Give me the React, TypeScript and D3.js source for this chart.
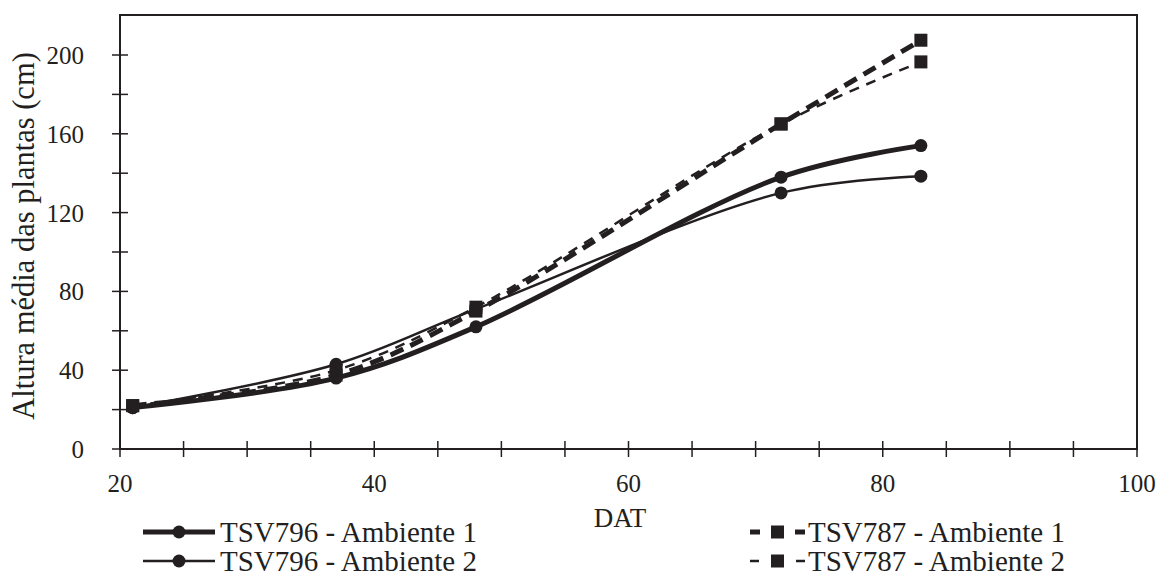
import React from "react";
import * as d3 from "d3";

const days = [21, 37, 48, 72, 83];
const tsv796A1 = [21, 36, 62, 138, 154];
const tsv796A2 = [21, 43, 71, 130, 138.5];
const tsv787A1 = [22, 37.5, 70, 165, 207.5];
const tsv787A2 = [22, 40, 72, 165, 196.5];
const xTicks = [20, 40, 60, 80, 100];
const yTicks = [0, 40, 80, 120, 160, 200];

const series = [
  { name: "TSV796 - Ambiente 1", values: tsv796A1, width: 5, dash: "", legendDash: "", marker: "circle" },
  { name: "TSV796 - Ambiente 2", values: tsv796A2, width: 2.5, dash: "", legendDash: "", marker: "circle" },
  { name: "TSV787 - Ambiente 1", values: tsv787A1, width: 5, dash: "14 8", legendDash: "10 35 10", marker: "square" },
  { name: "TSV787 - Ambiente 2", values: tsv787A2, width: 2.5, dash: "10 8", legendDash: "9 37 9", marker: "square" },
];

const W = 1162, H = 576;
const L = 120, R = 1137, T = 15, B = 449;
const ink = "#231f20";
const font = '"Liberation Serif", "DejaVu Serif", "Noto Serif", "Times New Roman", Times, serif';

export default function App() {
  const x = d3.scaleLinear().domain([20, 100]).range([L, R]);
  const y = d3.scaleLinear().domain([0, 200]).range([B, B - 394]);
  const line = d3
    .line<number>()
    .x((_, i) => x(days[i]))
    .y((d) => y(d))
    .curve(d3.curveCatmullRom.alpha(0.5));

  const minorX = d3.range(20, 100.01, 5);
  const minorY = d3.range(0, 220.01, 20).filter((v) => y(v) > T + 2);

  const marker = (m: string, cx: number, cy: number, key: string | number) =>
    m === "circle" ? (
      <circle key={key} cx={cx} cy={cy} r={6.5} fill={ink} />
    ) : (
      <rect key={key} x={cx - 6.5} y={cy - 6.5} width={13} height={13} fill={ink} />
    );

  const legend = [
    { s: series[0], x0: 143, x1: 215, tx: 220, ty: 532 },
    { s: series[1], x0: 143, x1: 215, tx: 220, ty: 561 },
    { s: series[2], x0: 750, x1: 805, tx: 808, ty: 532 },
    { s: series[3], x0: 750, x1: 805, tx: 808, ty: 561 },
  ];

  const tick = { fontFamily: font, fontSize: 25, fill: ink } as React.CSSProperties;
  const big = { fontFamily: font, fontSize: 29, fill: ink } as React.CSSProperties;

  return (
    <svg width={W} height={H} style={{ position: "absolute", left: 0, top: 0, background: "#fff" }}>
      <rect x={L} y={T} width={R - L} height={B - T} fill="none" stroke={ink} strokeWidth={2} />
      {minorX.map((v) => (
        <line key={"xt" + v} x1={x(v)} x2={x(v)} y1={B - 8} y2={B + 8} stroke={ink} strokeWidth={1.5} />
      ))}
      {minorY.map((v) => (
        <line key={"yt" + v} x1={L - 8} x2={L + 8} y1={y(v)} y2={y(v)} stroke={ink} strokeWidth={1.5} />
      ))}
      {xTicks.map((v) => (
        <text key={"xl" + v} x={x(v)} y={492} textAnchor="middle" style={tick}>
          {v}
        </text>
      ))}
      {yTicks.map((v) => (
        <text key={"yl" + v} x={84} y={y(v) + 9} textAnchor="end" style={tick}>
          {v}
        </text>
      ))}
      <text
        transform={`translate(34,${236}) rotate(-90)`}
        textAnchor="middle"
        style={{ ...big, fontSize: 30.5 }}
      >
        Altura média das plantas (cm)
      </text>
      <text x={620} y={527} textAnchor="middle" style={{ ...big, fontSize: 27 }}>
        DAT
      </text>
      {series.map((s, si) => (
        <g key={s.name}>
          <path d={line(s.values) || ""} fill="none" stroke={ink} strokeWidth={s.width} strokeDasharray={s.dash} />
          {s.values.map((v, i) => marker(s.marker, x(days[i]), y(v), si + "-" + i))}
        </g>
      ))}
      {legend.map((e, i) => (
        <g key={"lg" + i}>
          <line
            x1={e.x0}
            x2={e.x1}
            y1={e.ty}
            y2={e.ty}
            stroke={ink}
            strokeWidth={e.s.width}
            strokeDasharray={e.s.legendDash}
          />
          {marker(e.s.marker, (e.x0 + e.x1) / 2, e.ty, "lm" + i)}
          <text x={e.tx} y={e.ty + 10} style={big}>
            {e.s.name}
          </text>
        </g>
      ))}
    </svg>
  );
}
